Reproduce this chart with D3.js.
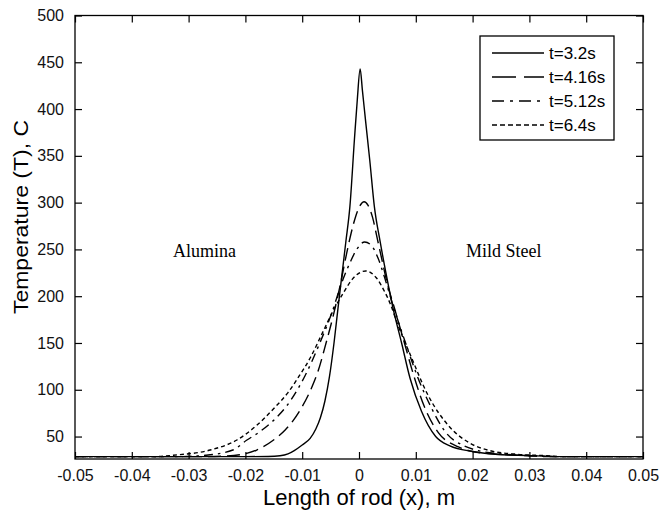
<!DOCTYPE html>
<html>
<head>
<meta charset="utf-8">
<script src="https://cdn.jsdelivr.net/npm/d3@7"></script>
<style>
  body { margin: 0; background: #fff; }
  svg { display: block; font-family: "Liberation Sans", Arial, sans-serif; }
</style>
</head>
<body>
<svg width="660" height="511"></svg>
<script>
// values (x in m, T in C)
const xTicks = [-0.05, -0.04, -0.03, -0.02, -0.01, 0, 0.01, 0.02, 0.03, 0.04, 0.05];
const yTicks = [50, 100, 150, 200, 250, 300, 350, 400, 450, 500];
const seriesNames = ["t=3.2s", "t=4.16s", "t=5.12s", "t=6.4s"];

const x32 = [-0.05, -0.02, -0.016, -0.0139, -0.0125, -0.0114, -0.0100, -0.0086, -0.0076, -0.0068, -0.0060, -0.0052, -0.0044, -0.0037, -0.0030, -0.0023, -0.0016, -0.0008, -0.0003, 0.0002, 0.0006, 0.0012, 0.0019, 0.0027, 0.0037, 0.0048, 0.0060, 0.0075, 0.0090, 0.0110, 0.0135, 0.0160, 0.0200, 0.0240, 0.0280, 0.0330, 0.0360, 0.05];
const t32 = [28.5, 28.5, 28.7, 29.5, 31.5, 35, 41, 48, 58, 70, 88, 114, 150, 187, 223, 259, 296, 368, 410, 443, 420, 385, 345, 296, 259, 223, 187, 150, 112, 77, 50, 40, 34, 31, 30, 29, 28.5, 28.5];

const x416 = [-0.05, -0.028, -0.024, -0.021, -0.018, -0.0151, -0.0130, -0.0116, -0.0100, -0.0085, -0.0072, -0.0058, -0.0045, -0.0032, -0.0022, -0.0014, -0.0006, 0.0002, 0.0009, 0.0016, 0.0024, 0.0032, 0.0040, 0.0050, 0.0063, 0.0080, 0.0097, 0.0115, 0.0140, 0.0175, 0.0200, 0.025, 0.030, 0.034, 0.05];
const t416 = [28.5, 28.5, 29, 30.5, 35.6, 46, 57, 67, 82, 100, 120, 150, 180, 215, 245, 267, 285, 297, 301, 297, 284, 262, 240, 213, 186, 150, 114, 82, 54, 39, 34, 31, 29.5, 28.5, 28.5];

const x512 = [-0.05, -0.032, -0.027, -0.0222, -0.0198, -0.0175, -0.0151, -0.0121, -0.0095, -0.0069, -0.0048, -0.0030, -0.0015, -0.0004, 0.0010, 0.0022, 0.0034, 0.0044, 0.0060, 0.0082, 0.0103, 0.0128, 0.0152, 0.0185, 0.0210, 0.026, 0.031, 0.035, 0.05];
const t512 = [28.5, 28.5, 30, 35.6, 46, 55, 67, 88, 115, 150, 182, 215, 237, 250, 258, 254, 240, 222, 190, 150, 114, 80, 55, 40, 35, 31, 29.3, 28.5, 28.5];

const x64 = [-0.05, -0.036, -0.0327, -0.0262, -0.0215, -0.0180, -0.0150, -0.0125, -0.0105, -0.0085, -0.0065, -0.0045, -0.0028, -0.0012, 0.0012, 0.0030, 0.0045, 0.0055, 0.0068, 0.0092, 0.0120, 0.0160, 0.0195, 0.023, 0.028, 0.033, 0.036, 0.05];
const t64 = [28.5, 28.5, 30, 35.6, 46.3, 62, 80, 97, 115, 135, 160, 185, 203, 218, 227, 220, 205, 192, 170, 135, 96, 60, 43, 35, 31, 29.5, 28.5, 28.5];

const svg = d3.select('svg');
const plot = {left: 75, right: 643, top: 15.5, bottom: 459};

const x = d3.scaleLinear().domain([-0.05, 0.05]).range([plot.left, plot.right]);
const y = d3.scaleLinear().domain([26, 500]).range([plot.bottom, plot.top]);

const fmtX = d => d === 0 ? "0" : d.toFixed(2);

// axes with inward ticks on all four sides
svg.append('g')
  .attr('transform', 'translate(0,' + plot.bottom + ')')
  .call(d3.axisBottom(x).tickValues(xTicks).tickFormat(fmtX).tickSizeInner(-7).tickSizeOuter(0).tickPadding(11))
  .call(g => g.select('.domain').remove());
svg.append('g')
  .attr('transform', 'translate(0,' + plot.top + ')')
  .call(d3.axisTop(x).tickValues(xTicks).tickFormat('').tickSizeInner(-7).tickSizeOuter(0))
  .call(g => g.select('.domain').remove());
svg.append('g')
  .attr('transform', 'translate(' + plot.left + ',0)')
  .call(d3.axisLeft(y).tickValues(yTicks).tickSizeInner(-7).tickSizeOuter(0).tickPadding(11))
  .call(g => g.select('.domain').remove());
svg.append('g')
  .attr('transform', 'translate(' + plot.right + ',0)')
  .call(d3.axisRight(y).tickValues(yTicks).tickFormat('').tickSizeInner(-7).tickSizeOuter(0))
  .call(g => g.select('.domain').remove());

svg.selectAll('.tick line').attr('stroke', '#000').attr('stroke-width', 1.2);
svg.selectAll('.tick text').attr('fill', '#111').style('font-size', '16px')
  .style('font-family', '"Liberation Sans", Arial, sans-serif');

svg.append('rect')
  .attr('x', plot.left).attr('y', plot.top)
  .attr('width', plot.right - plot.left).attr('height', plot.bottom - plot.top)
  .attr('fill', 'none').attr('stroke', '#000').attr('stroke-width', 1.3);

// curves
const series = [
  {name: seriesNames[0], xs: x32, ts: t32, dash: null},
  {name: seriesNames[1], xs: x416, ts: t416, dash: '13,6'},
  {name: seriesNames[2], xs: x512, ts: t512, dash: '9,5,2.5,5'},
  {name: seriesNames[3], xs: x64, ts: t64, dash: '4,3'}
];

const line = d3.line()
  .x(d => x(d[0]))
  .y(d => y(d[1]))
  .curve(d3.curveMonotoneX);

svg.append('g').selectAll('path')
  .data(series)
  .enter()
  .append('path')
    .attr('d', s => line(d3.zip(s.xs, s.ts)))
    .attr('fill', 'none')
    .attr('stroke', '#000')
    .attr('stroke-width', 1.4)
    .attr('stroke-dasharray', s => s.dash);

// material labels
svg.append('text').attr('x', 173).attr('y', 257)
  .style('font-family', '"Liberation Serif", "Times New Roman", serif').style('font-size', '18px')
  .text('Alumina');
svg.append('text').attr('x', 466).attr('y', 257)
  .style('font-family', '"Liberation Serif", "Times New Roman", serif').style('font-size', '18px')
  .text('Mild Steel');

// legend
const legend = svg.append('g');
legend.append('rect')
  .attr('x', 480).attr('y', 36).attr('width', 134).attr('height', 104)
  .attr('fill', '#fff').attr('stroke', '#000').attr('stroke-width', 1.3);
const rows = legend.selectAll('.row')
  .data(series)
  .enter()
  .append('g')
    .attr('class', 'row')
    .attr('transform', (d, i) => 'translate(0,' + (53 + i * 24) + ')');
rows.append('line')
  .attr('x1', 492).attr('x2', 544)
  .attr('stroke', '#000').attr('stroke-width', 1.4)
  .attr('stroke-dasharray', (d, i) => [null, '24,8', '12,6,3,6', '5,3'][i]);
rows.append('text')
  .attr('x', 549).attr('dy', '0.36em')
  .style('font-size', '17px')
  .text(d => d.name);

// axis titles
svg.append('text')
  .attr('x', 359).attr('y', 505)
  .attr('text-anchor', 'middle')
  .style('font-size', '22px')
  .text('Length of rod (x), m');
svg.append('text')
  .attr('transform', 'translate(28,217) scale(0.88,1) rotate(-90)')
  .attr('text-anchor', 'middle')
  .style('font-size', '23px')
  .text('Temperature (T), C');
</script>
</body>
</html>
